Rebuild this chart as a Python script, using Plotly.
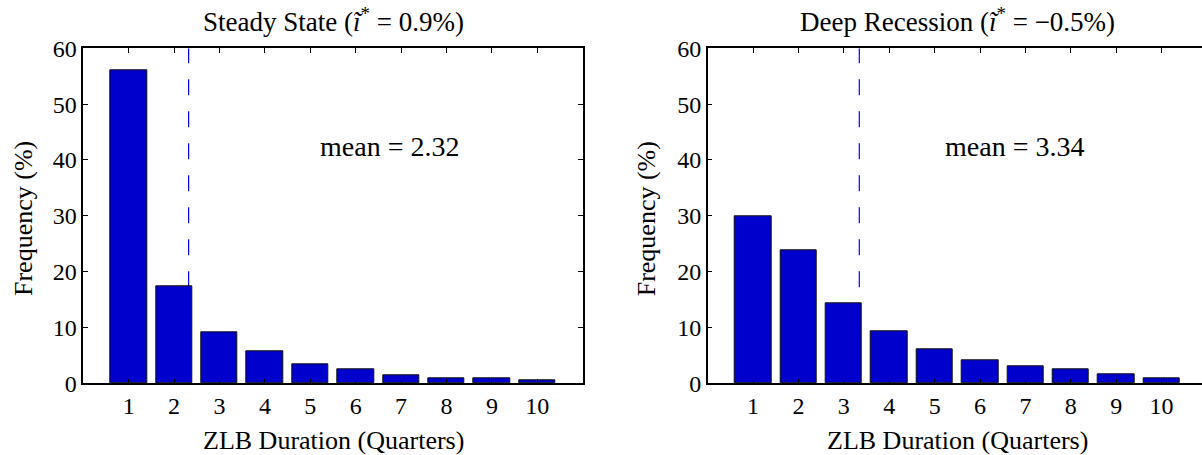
import plotly.graph_objects as go

# ZLB duration histogram data
quarters = [1, 2, 3, 4, 5, 6, 7, 8, 9, 10]
freq_steady = [56.0, 17.45, 9.1, 5.65, 3.4, 2.5, 1.43, 0.95, 0.89, 0.54]
freq_recession = [30.0, 23.9, 14.4, 9.35, 6.1, 4.1, 3.1, 2.5, 1.66, 0.95]
mean_steady = 2.32
mean_recession = 3.34
y_ticks = [0, 10, 20, 30, 40, 50, 60]

titles = [
    "Steady State (<i>ĩ</i><sup>*</sup> = 0.9%)",
    "Deep Recession (<i>ĩ</i><sup>*</sup> = −0.5%)",
]

FONT = "Liberation Serif"
BAR_COLOR = "#0000CC"
W, H = 1202, 455

fig = go.Figure()

# bars, one panel each
for i, freq in enumerate([freq_steady, freq_recession]):
    fig.add_trace(go.Bar(
        x=quarters, y=freq, width=0.8,
        marker=dict(color=BAR_COLOR, line=dict(color="#111111", width=1)),
        xaxis="x" if i == 0 else "x2",
        yaxis="y" if i == 0 else "y2",
        showlegend=False,
    ))

# dashed mean lines, drawn under the bars
for i, m in enumerate([mean_steady, mean_recession]):
    xr = "x" if i == 0 else "x2"
    yr = "y" if i == 0 else "y2"
    fig.add_shape(type="line", x0=m, x1=m, y0=0, y1=60, xref=xr, yref=yr,
                  layer="below", line=dict(color="#0000FF", width=1.2, dash="16px,16px"))
    fig.add_annotation(text="mean = %.2f" % m, x=6.75, y=42.4, xref=xr, yref=yr,
                       showarrow=False, yanchor="middle",
                       font=dict(family=FONT, size=28, color="black"))
    # panel title
    fig.add_annotation(text=titles[i], x=5.5, y=1 - 20 / H, xref=xr, yref="paper",
                       showarrow=False, yanchor="middle",
                       font=dict(family=FONT, size=27, color="black"))
    # x title
    fig.add_annotation(text="ZLB Duration (Quarters)", x=5.5, y=1 - 440 / H, xref=xr, yref="paper",
                       showarrow=False, yanchor="middle",
                       font=dict(family=FONT, size=26, color="black"))

# y titles
for px in [23 / W, 646.3 / W]:
    fig.add_annotation(text="Frequency (%)", x=px, y=1 - 219 / H, xref="paper", yref="paper",
                       textangle=-90, showarrow=False, xanchor="center", yanchor="middle",
                       font=dict(family=FONT, size=26, color="black"))

ax_common = dict(
    ticks="inside", ticklen=5, tickwidth=1, tickcolor="black",
    showline=True, linecolor="black", linewidth=1.5,
    showgrid=False, zeroline=False,
    tickfont=dict(family=FONT, size=24, color="black"),
)

y_dom = [1 - 383.3 / H, 1 - 48.3 / H]

fig.update_layout(
    width=W, height=H,
    margin=dict(l=0, r=0, t=0, b=0, autoexpand=False),
    paper_bgcolor="white", plot_bgcolor="white",
    bargap=0,
    xaxis=dict(domain=[83.3 / W, 582.7 / W], range=[0, 11],
               tickvals=quarters, mirror="ticks", anchor="y", **ax_common),
    yaxis=dict(domain=y_dom, range=[0, 60], tickvals=y_ticks,
               mirror="ticks", anchor="x", **ax_common),
    xaxis2=dict(domain=[707.7 / W, 1.0], range=[0, 10.89],
                tickvals=quarters, mirror="ticks", anchor="y2", **ax_common),
    yaxis2=dict(domain=y_dom, range=[0, 60], tickvals=y_ticks,
                mirror=False, anchor="x2", **ax_common),
)

fig.write_html("out.html", config={"displayModeBar": False},
               post_script="document.body.style.margin='0';")
